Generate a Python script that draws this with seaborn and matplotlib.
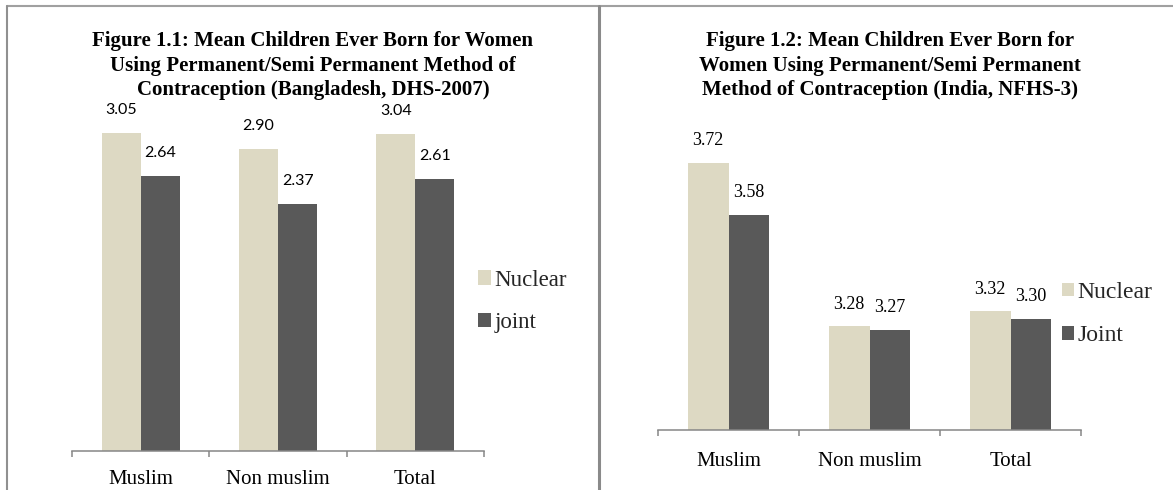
import matplotlib
matplotlib.use("Agg")
import matplotlib.pyplot as plt
from matplotlib.lines import Line2D
import seaborn as sns
import pandas as pd

# ---------------- data ----------------
categories = ["Muslim", "Non muslim", "Total"]
bd_nuclear = [3.05, 2.90, 3.04]
bd_joint = [2.64, 2.37, 2.61]
in_nuclear = [3.72, 3.28, 3.32]
in_joint = [3.58, 3.27, 3.30]
bd_series = ["Nuclear", "joint"]
in_series = ["Nuclear", "Joint"]
bd_title = ("Figure 1.1: Mean Children Ever Born for Women\n"
            "Using Permanent/Semi Permanent Method of\n"
            "Contraception (Bangladesh, DHS-2007)")
in_title = ("Figure 1.2: Mean Children Ever Born for\n"
            "Women Using Permanent/Semi Permanent\n"
            "Method of Contraception (India, NFHS-3)")
colors = ["#DDD9C3", "#595959"]

sns.set_theme(style="white")
plt.rcParams["font.family"] = ["Liberation Serif", "DejaVu Serif"]

W, H = 1173, 490
fig = plt.figure(figsize=(W / 100, H / 100), dpi=100)


def fx(px):
    return px / W


def fy(py):
    return 1 - py / H


def make_df(nuc, jnt, names):
    return pd.DataFrame({
        "category": categories * 2,
        "value": list(nuc) + list(jnt),
        "family": [names[0]] * len(nuc) + [names[1]] * len(jnt),
    })


def panel(rect, nuc, jnt, names, ylim, width, lab_family, lab_size, lab_off,
          title, title_xy, legend_xy, legend_size, handle_px, tick_pad):
    df = make_df(nuc, jnt, names)
    ax = fig.add_axes(rect)
    sns.barplot(data=df, x="category", y="value", hue="family",
                order=categories, hue_order=names, palette=colors,
                saturation=1, width=width, errorbar=None, linewidth=0, ax=ax)
    ax.set_xlim(-0.5, 2.5)
    ax.set_ylim(*ylim)
    ax.set_xlabel("")
    ax.set_ylabel("")
    ax.set_yticks([])
    for s in ["left", "top", "right"]:
        ax.spines[s].set_visible(False)
    ax.spines["bottom"].set_color("#868686")
    ax.spines["bottom"].set_linewidth(1.1)
    ax.set_xticks(range(len(categories)))
    ax.set_xticklabels(categories, fontsize=15)
    ax.tick_params(axis="x", which="major", bottom=True, length=0, pad=tick_pad,
                   colors="black")
    ax.set_xticks([i - 0.5 for i in range(len(categories) + 1)], minor=True)
    ax.tick_params(axis="x", which="minor", bottom=True, length=4.5, width=1.1,
                   color="#868686", direction="out")
    # data labels
    for cont, vals in zip(ax.containers, [nuc, jnt]):
        for bar, v in zip(cont, vals):
            ax.annotate(f"{v:.2f}", (bar.get_x() + bar.get_width() / 2, bar.get_height()),
                        xytext=(0, lab_off), textcoords="offset points",
                        ha="center", va="center", fontsize=lab_size,
                        family=lab_family, color="black", annotation_clip=False)
    # legend
    hpx = legend_size * 100 / 72
    sns.move_legend(ax, "center left", bbox_to_anchor=(fx(legend_xy[0]), fy(legend_xy[1])),
                    bbox_transform=fig.transFigure, frameon=False, title=None,
                    prop={"family": "Liberation Serif", "size": legend_size},
                    handlelength=handle_px / hpx, handleheight=handle_px / hpx,
                    handletextpad=0.15, labelspacing=0.95, borderpad=0, borderaxespad=0)
    fig.text(fx(title_xy[0]), fy(title_xy[1]), title, ha="center", va="center",
             fontsize=15, fontweight="bold", linespacing=1.28, color="black")
    return ax


panel([fx(72), 1 - 451 / H, 412 / W, 365 / H], bd_nuclear, bd_joint, bd_series,
      (0, 3.5), 0.57, ["Lato", "DejaVu Sans"], 11.5, 16.5,
      bd_title, (313, 65.5), (478, 301.5), 16.5, 13, 14)
panel([fx(658), 1 - 430 / H, 423 / W, 297 / H], in_nuclear, in_joint, in_series,
      (3.0, 3.8), 0.575, ["Liberation Serif"], 13, 15.8,
      in_title, (890, 65.5), (1062, 314), 17, 12, 16)

# panel borders
fig.add_artist(Line2D([fx(7), fx(W)], [fy(6), fy(6)], color="#a0a0a0", lw=1.5))
fig.add_artist(Line2D([fx(7), fx(7)], [fy(6), fy(H)], color="#909090", lw=1.5))
fig.add_artist(Line2D([fx(598.5), fx(598.5)], [fy(6), fy(H)], color="#8a8a8a", lw=2.2))

fig.savefig("out.png", dpi=100)
